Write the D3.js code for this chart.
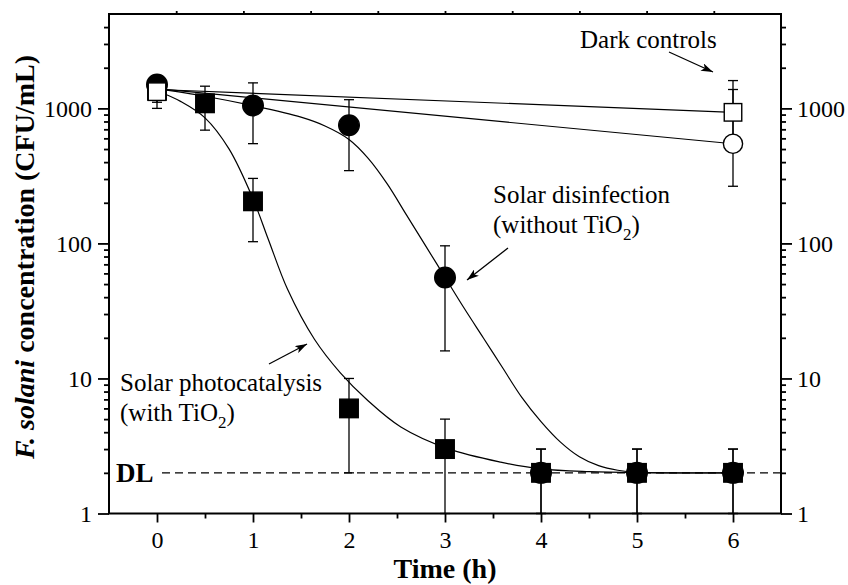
<!DOCTYPE html>
<html><head><meta charset="utf-8">
<script src="https://cdn.jsdelivr.net/npm/d3@7/dist/d3.min.js"></script>
<style>
html,body{margin:0;padding:0;background:#fff;}
svg{display:block;}
text{font-family:"Liberation Serif","Times New Roman",serif;fill:#000;}
</style></head>
<body><svg id="c" width="848" height="585"></svg>
<script>
// ---- data ----
const xTicks = [0,1,2,3,4,5,6];
const xMinor = [0.5,1.5,2.5,3.5,4.5,5.5];
const yTicks = [1,10,100,1000];
const yMinor = [2,3,4,5,6,7,8,9,20,30,40,50,60,70,80,90,200,300,400,500,600,700,800,900,2000,3000,4000];

// Solar photocatalysis (with TiO2) - filled squares
const photoT  = [0,0.5,1,2,3,4,5,6];
const photoV  = [1350,1090,205,6,3,2,2,2];
const photoHi = [1500,1460,303,10,5,3,3,3];
const photoLo = [1200,690,103,2,1,1,1,1];

// Solar disinfection (without TiO2) - filled circles
const solarT  = [0,1,2,3,4,5,6];
const solarV  = [1500,1050,750,56,2,2,2];
const solarHi = [1700,1545,1160,96,3,3,3];
const solarLo = [1000,548,346,16,1,1,1];

// Dark controls - open circles / open squares
const darkCircT  = [0,6];
const darkCircV  = [1450,547];
const darkCircHi = [1600,1380];
const darkCircLo = [1250,265];
const darkSqT  = [0,6];
const darkSqV  = [1330,935];
const darkSqHi = [1500,1607];
const darkSqLo = [1110,600];

// fitted curves
const photoFitT = [0,0.25,0.5,0.75,1.0,1.16,1.36,1.64,1.91,2.19,2.54,3.03,3.58,4.0,4.5,5,6];
const photoFitV = [1350,1122,851,501,214,107,45.7,19.5,11.0,6.92,4.37,3.02,2.40,2.14,2.04,2.005,2];
const solarFitT = [0,0.5,1.0,1.5,1.75,2.0,2.2,2.4,2.6,2.8,3.0,3.2,3.4,3.6,3.8,4.0,4.2,4.4,4.6,4.8,5.0,6];
const solarFitV = [1400,1230,1047,861,741,589,427,275,162,95.5,56.2,33.1,19.95,12.0,7.24,4.79,3.39,2.63,2.26,2.09,2.02,2];
const darkUpT = [0,6], darkUpV = [1380,935];
const darkLoT = [0,6], darkLoV = [1400,547];
const detectionLimit = 2;

// ---- drawing ----
const svg = d3.select("#c");
const L=109, R=781, T=14, B=513.5;
const x = d3.scaleLinear().domain([-0.5,6.5]).range([L,R]);
const y = d3.scaleLog().domain([1,5000]).range([B,T]);
const top10 = d3.scaleLinear().domain([0,10]).range([L,R]);
const FF = '"Liberation Serif","Times New Roman",serif';

function styleAxis(g, fs){
  g.attr("font-family",FF);
  g.select(".domain").remove();
  g.selectAll(".tick line").attr("stroke","#000").attr("stroke-width",1.8);
  g.selectAll(".tick text").style("font-size",fs+"px").style("font-family",FF);
}
// left
svg.append("g").attr("transform",`translate(${L},0)`)
  .call(d3.axisLeft(y).tickValues(yTicks).tickSize(11).tickPadding(6).tickFormat(d3.format("d")))
  .call(g=>styleAxis(g,24));
svg.append("g").attr("transform",`translate(${L},0)`)
  .call(d3.axisLeft(y).tickValues(yMinor).tickSize(5).tickFormat(""))
  .call(g=>styleAxis(g,24));
// right
svg.append("g").attr("transform",`translate(${R},0)`)
  .call(d3.axisRight(y).tickValues(yTicks).tickSize(11).tickPadding(5).tickFormat(d3.format("d")))
  .call(g=>styleAxis(g,24));
svg.append("g").attr("transform",`translate(${R},0)`)
  .call(d3.axisRight(y).tickValues(yMinor).tickSize(5).tickFormat(""))
  .call(g=>styleAxis(g,24));
// bottom
svg.append("g").attr("transform",`translate(0,${B})`)
  .call(d3.axisBottom(x).tickValues(xTicks).tickSize(9).tickPadding(8).tickFormat(d3.format("d")))
  .call(g=>styleAxis(g,24));
svg.append("g").attr("transform",`translate(0,${B})`)
  .call(d3.axisBottom(x).tickValues(xMinor).tickSize(5).tickFormat(""))
  .call(g=>styleAxis(g,24));
// top (unlabelled ticks)
svg.append("g").attr("transform",`translate(0,${T})`)
  .call(d3.axisTop(top10).tickValues(d3.range(1,10)).tickSize(3).tickFormat(""))
  .call(g=>styleAxis(g,24));

// DL dashed line
svg.append("line").attr("x1",162).attr("x2",R).attr("y1",y(detectionLimit)).attr("y2",y(detectionLimit))
  .attr("stroke","#000").attr("stroke-width",1.3).attr("stroke-dasharray","8,5");
svg.append("text").attr("x",116).attr("y",y(detectionLimit)+9).style("font-size","27px").style("font-weight","bold").text("DL");

// fit lines
const lineGen = d3.line().x(d=>x(d[0])).y(d=>y(d[1])).curve(d3.curveCatmullRom.alpha(0.5));
function fit(ts,vs){
  svg.append("path").attr("d",lineGen(ts.map((t,i)=>[t,vs[i]]))).attr("fill","none").attr("stroke","#000").attr("stroke-width",1.2);
}
fit(darkUpT,darkUpV); fit(darkLoT,darkLoV); fit(photoFitT,photoFitV); fit(solarFitT,solarFitV);

// error bars
function errs(ts,hi,lo){
  const g=svg.append("g").attr("stroke","#000").attr("stroke-width",1.3);
  ts.forEach((t,i)=>{
    const cx=x(t);
    g.append("line").attr("x1",cx).attr("x2",cx).attr("y1",y(hi[i])).attr("y2",y(lo[i]));
    g.append("line").attr("x1",cx-5).attr("x2",cx+5).attr("y1",y(hi[i])).attr("y2",y(hi[i]));
    g.append("line").attr("x1",cx-5).attr("x2",cx+5).attr("y1",y(lo[i])).attr("y2",y(lo[i]));
  });
}
errs(darkCircT,darkCircHi,darkCircLo);
errs(darkSqT,darkSqHi,darkSqLo);
errs(photoT,photoHi,photoLo);
errs(solarT,solarHi,solarLo);

// markers
function circles(ts,vs,fill){
  svg.append("g").selectAll("circle").data(ts).join("circle")
    .attr("cx",t=>x(t)).attr("cy",(t,i)=>y(vs[i])).attr("r",fill==="#000"?10.3:9.6)
    .attr("fill",fill).attr("stroke","#000").attr("stroke-width",1.4);
}
function squares(ts,vs,fill){
  const s=fill==="#000"?18.5:17.5;
  svg.append("g").selectAll("rect").data(ts).join("rect")
    .attr("x",t=>x(t)-s/2).attr("y",(t,i)=>y(vs[i])-s/2).attr("width",s).attr("height",s)
    .attr("fill",fill).attr("stroke","#000").attr("stroke-width",1.4);
}
circles(darkCircT,darkCircV,"#fff");
squares(photoT,photoV,"#000");
circles(solarT,solarV,"#000");
squares(darkSqT,darkSqV,"#fff");

// frame
svg.append("rect").attr("x",L).attr("y",T).attr("width",R-L).attr("height",B-T)
  .attr("fill","none").attr("stroke","#000").attr("stroke-width",2);

// arrows
svg.append("defs").append("marker").attr("id","ah").attr("viewBox","0 0 12 8")
  .attr("refX",12).attr("refY",4).attr("markerWidth",12).attr("markerHeight",8)
  .attr("markerUnits","userSpaceOnUse").attr("orient","auto")
  .append("path").attr("d","M0,0L12,4L0,8L3,4Z").attr("fill","#000");
function arrow(x1,y1,x2,y2){
  svg.append("line").attr("x1",x1).attr("y1",y1).attr("x2",x2).attr("y2",y2)
    .attr("stroke","#000").attr("stroke-width",1.3).attr("marker-end","url(#ah)");
}
arrow(669,52,713,72);
arrow(508,248,467,280);
arrow(269,364,307,344);

// annotation texts
const fsA=25;
svg.append("text").attr("x",580).attr("y",48).style("font-size",fsA+"px").text("Dark controls");
svg.append("text").attr("x",493).attr("y",203).style("font-size",fsA+"px").text("Solar disinfection");
const t2=svg.append("text").attr("x",493).attr("y",233).style("font-size",fsA+"px");
t2.append("tspan").text("(without TiO");
t2.append("tspan").attr("dy",7).style("font-size","17px").text("2");
t2.append("tspan").attr("dy",-7).text(")");
svg.append("text").attr("x",120).attr("y",391).style("font-size",fsA+"px").text("Solar photocatalysis");
const t3=svg.append("text").attr("x",120).attr("y",421).style("font-size",fsA+"px");
t3.append("tspan").text("(with TiO");
t3.append("tspan").attr("dy",7).style("font-size","17px").text("2");
t3.append("tspan").attr("dy",-7).text(")");

// axis titles
svg.append("text").attr("x",445).attr("y",578).attr("text-anchor","middle")
  .style("font-size","28px").style("font-weight","bold").text("Time (h)");
const yl=svg.append("text").attr("transform","translate(34,257) rotate(-90)").attr("text-anchor","middle")
  .style("font-size","28px").style("font-weight","bold");
yl.append("tspan").style("font-style","italic").text("F. solani");
yl.append("tspan").text(" concentration (CFU/mL)");
</script></body></html>
